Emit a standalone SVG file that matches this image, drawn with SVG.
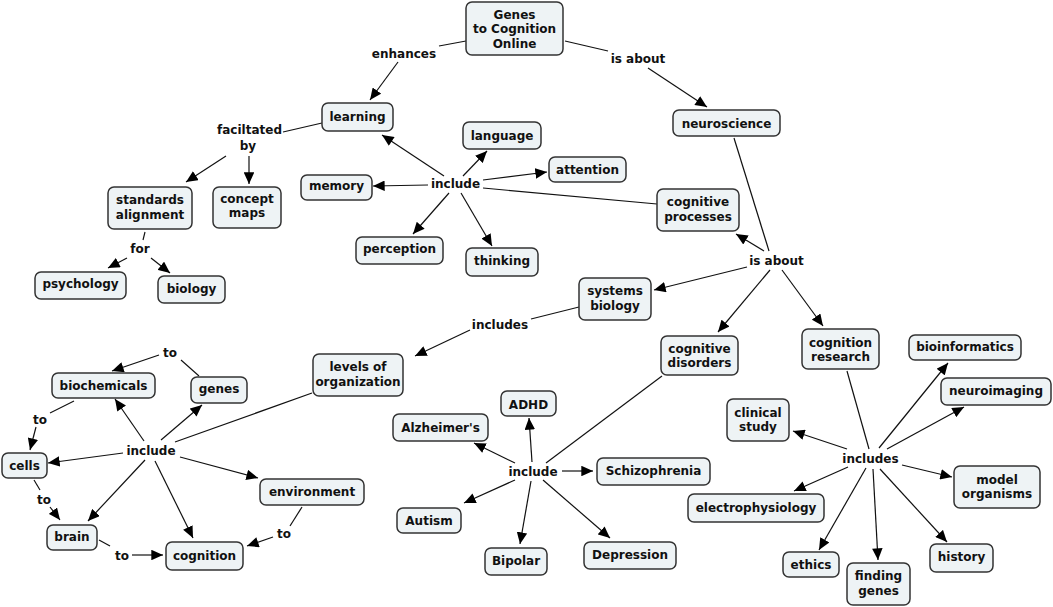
<svg xmlns="http://www.w3.org/2000/svg" width="1053" height="607" viewBox="0 0 1053 607">
<defs>
<marker id="ah" viewBox="0 0 10 9" refX="10" refY="4.5" markerWidth="12" markerHeight="10.5" markerUnits="userSpaceOnUse" orient="auto">
<path d="M0,0 L10,4.5 L0,9 z" fill="#000"/>
</marker>
<style>
.n rect{fill:#eef3f5;stroke:#333;stroke-width:1.5}
text{font-family:"DejaVu Sans",Verdana,"Liberation Sans",sans-serif;font-weight:bold;font-size:12px;fill:#111;text-anchor:middle}
#edges line,#edges path{stroke:#111;stroke-width:1.2;fill:none}
#edges .a{marker-end:url(#ah)}
</style>
</defs>
<rect width="1053" height="607" fill="#fff"/>
<g id="edges">
<line x1="466" y1="41" x2="439" y2="46"/>
<line class="a" x1="398" y1="62" x2="370" y2="100"/>
<line x1="565" y1="41" x2="608" y2="51"/>
<line class="a" x1="648" y1="68" x2="707" y2="107"/>
<line x1="322" y1="123" x2="283" y2="132"/>
<line class="a" x1="226" y1="156" x2="186" y2="182"/>
<line class="a" x1="249" y1="156" x2="249" y2="184"/>
<line x1="145" y1="232" x2="143" y2="240"/>
<line class="a" x1="127" y1="258" x2="108" y2="268"/>
<line class="a" x1="151" y1="258" x2="170" y2="273"/>
<line x1="657" y1="204" x2="483" y2="188"/>
<line class="a" x1="444" y1="176" x2="382" y2="135"/>
<line class="a" x1="463" y1="176" x2="487" y2="151"/>
<line class="a" x1="483" y1="180" x2="547" y2="172"/>
<line class="a" x1="428" y1="185" x2="373" y2="186"/>
<line class="a" x1="449" y1="193" x2="413" y2="234"/>
<line class="a" x1="461" y1="193" x2="492" y2="246"/>
<line x1="734" y1="138" x2="769" y2="251"/>
<line class="a" x1="764" y1="251" x2="736" y2="234"/>
<line class="a" x1="747" y1="267" x2="654" y2="290"/>
<line class="a" x1="770" y1="270" x2="718" y2="332"/>
<line class="a" x1="782" y1="270" x2="823" y2="326"/>
<line x1="579" y1="307" x2="531" y2="319"/>
<line class="a" x1="470" y1="330" x2="415" y2="356"/>
<line x1="312" y1="393" x2="175" y2="442"/>
<line class="a" x1="144" y1="441" x2="115" y2="399"/>
<line class="a" x1="161" y1="440" x2="202" y2="405"/>
<line class="a" x1="123" y1="453" x2="48" y2="463"/>
<line class="a" x1="180" y1="457" x2="258" y2="478"/>
<line class="a" x1="145" y1="460" x2="88" y2="521"/>
<line class="a" x1="155" y1="461" x2="193" y2="538"/>
<line x1="199" y1="376" x2="181" y2="360"/>
<line class="a" x1="159" y1="355" x2="112" y2="371"/>
<line x1="74" y1="401" x2="50" y2="413"/>
<line class="a" x1="36" y1="427" x2="30" y2="450"/>
<line x1="34" y1="480" x2="40" y2="490"/>
<line class="a" x1="50" y1="507" x2="60" y2="520"/>
<line x1="99" y1="540" x2="110" y2="546"/>
<line class="a" x1="132" y1="555" x2="163" y2="555"/>
<line x1="302" y1="507" x2="290" y2="526"/>
<line class="a" x1="273" y1="537" x2="247" y2="546"/>
<line x1="662" y1="376" x2="546" y2="463"/>
<line class="a" x1="532" y1="462" x2="529" y2="418"/>
<line class="a" x1="515" y1="463" x2="474" y2="443"/>
<line class="a" x1="562" y1="471" x2="593" y2="471"/>
<line class="a" x1="515" y1="480" x2="464" y2="503"/>
<line class="a" x1="531" y1="481" x2="520" y2="544"/>
<line class="a" x1="543" y1="480" x2="610" y2="538"/>
<line x1="847" y1="371" x2="869" y2="449"/>
<line class="a" x1="879" y1="448" x2="948" y2="363"/>
<line class="a" x1="887" y1="449" x2="964" y2="407"/>
<line class="a" x1="847" y1="449" x2="793" y2="431"/>
<line class="a" x1="902" y1="465" x2="952" y2="477"/>
<line class="a" x1="848" y1="467" x2="794" y2="491"/>
<line class="a" x1="866" y1="468" x2="819" y2="550"/>
<line class="a" x1="873" y1="469" x2="878" y2="560"/>
<line class="a" x1="880" y1="469" x2="947" y2="542"/>
</g>
<g id="labels">
<text x="404" y="57.5">enhances</text>
<text x="638" y="63">is about</text>
<text x="249.5" y="134">faciltated</text>
<text x="248" y="149.5">by</text>
<text x="140" y="253">for</text>
<text x="455.5" y="187.5">include</text>
<text x="776.5" y="264.5">is about</text>
<text x="500" y="328.5">includes</text>
<text x="151" y="454.5">include</text>
<text x="170" y="356.5">to</text>
<text x="40" y="423.5">to</text>
<text x="44" y="503.5">to</text>
<text x="122" y="560">to</text>
<text x="284" y="537.5">to</text>
<text x="533" y="475.5">include</text>
<text x="870.5" y="462.5">includes</text>
</g>
<g id="n-genes2cog" class="n"><rect x="466" y="2" width="97" height="53" rx="6"/><text x="514.5" y="18.5">Genes</text><text x="514.5" y="33">to Cognition</text><text x="514.5" y="47.5">Online</text></g>
<g id="n-learning" class="n"><rect x="322" y="103" width="71" height="28" rx="6"/><text x="357.5" y="121">learning</text></g>
<g id="n-language" class="n"><rect x="463" y="122" width="78" height="27" rx="6"/><text x="502" y="139.5">language</text></g>
<g id="n-neuroscience" class="n"><rect x="673" y="110" width="107" height="26" rx="6"/><text x="726.5" y="127.5">neuroscience</text></g>
<g id="n-standards" class="n"><rect x="108" y="187" width="84" height="42" rx="6"/><text x="150" y="204">standards</text><text x="150" y="218.5">alignment</text></g>
<g id="n-concept" class="n"><rect x="213" y="187" width="68" height="41" rx="6"/><text x="247" y="202.5">concept</text><text x="247" y="217">maps</text></g>
<g id="n-psychology" class="n"><rect x="35" y="272" width="91" height="27" rx="6"/><text x="80.5" y="288">psychology</text></g>
<g id="n-biology" class="n"><rect x="158" y="276" width="67" height="27" rx="6"/><text x="191.5" y="292.5">biology</text></g>
<g id="n-memory" class="n"><rect x="301" y="175" width="71" height="25" rx="6"/><text x="336.5" y="189.5">memory</text></g>
<g id="n-attention" class="n"><rect x="549" y="157" width="77" height="25" rx="6"/><text x="587.5" y="173.5">attention</text></g>
<g id="n-cogproc" class="n"><rect x="657" y="189" width="82" height="42" rx="6"/><text x="698" y="206">cognitive</text><text x="698" y="221">processes</text></g>
<g id="n-perception" class="n"><rect x="356" y="237" width="87" height="27" rx="6"/><text x="399.5" y="252.5">perception</text></g>
<g id="n-thinking" class="n"><rect x="466" y="248" width="72" height="28" rx="6"/><text x="502" y="265">thinking</text></g>
<g id="n-sysbio" class="n"><rect x="579" y="278" width="72" height="42" rx="6"/><text x="615" y="295">systems</text><text x="615" y="309.5">biology</text></g>
<g id="n-cogdis" class="n"><rect x="661" y="336" width="77" height="39" rx="6"/><text x="699.5" y="352.5">cognitive</text><text x="699.5" y="366.5">disorders</text></g>
<g id="n-cogres" class="n"><rect x="802" y="329" width="77" height="40" rx="6"/><text x="840.5" y="346.5">cognition</text><text x="840.5" y="361">research</text></g>
<g id="n-levels" class="n"><rect x="313" y="354" width="90" height="42" rx="6"/><text x="358" y="371">levels of</text><text x="358" y="386">organization</text></g>
<g id="n-biochem" class="n"><rect x="52" y="373" width="103" height="25" rx="6"/><text x="103.5" y="389.5">biochemicals</text></g>
<g id="n-genes" class="n"><rect x="191" y="377" width="56" height="26" rx="6"/><text x="219" y="392.5">genes</text></g>
<g id="n-cells" class="n"><rect x="2" y="453" width="45" height="25" rx="6"/><text x="24.5" y="469.5">cells</text></g>
<g id="n-environment" class="n"><rect x="260" y="479" width="104" height="26" rx="6"/><text x="312" y="496">environment</text></g>
<g id="n-brain" class="n"><rect x="47" y="525" width="50" height="25" rx="6"/><text x="72" y="541">brain</text></g>
<g id="n-cognition" class="n"><rect x="166" y="542" width="77" height="28" rx="6"/><text x="204.5" y="559.5">cognition</text></g>
<g id="n-adhd" class="n"><rect x="501" y="391" width="55" height="25" rx="6"/><text x="528.5" y="408.5">ADHD</text></g>
<g id="n-alz" class="n"><rect x="393" y="414" width="95" height="27" rx="6"/><text x="440.5" y="431.5">Alzheimer's</text></g>
<g id="n-schizo" class="n"><rect x="597" y="458" width="113" height="27" rx="6"/><text x="653.5" y="474.5">Schizophrenia</text></g>
<g id="n-autism" class="n"><rect x="397" y="508" width="64" height="25" rx="6"/><text x="429" y="524.5">Autism</text></g>
<g id="n-bipolar" class="n"><rect x="485" y="548" width="62" height="27" rx="6"/><text x="516" y="564.5">Bipolar</text></g>
<g id="n-depression" class="n"><rect x="584" y="542" width="92" height="27" rx="6"/><text x="630" y="558.5">Depression</text></g>
<g id="n-bioinf" class="n"><rect x="909" y="335" width="112" height="25" rx="6"/><text x="965" y="351">bioinformatics</text></g>
<g id="n-neuroimg" class="n"><rect x="941" y="378" width="110" height="27" rx="6"/><text x="996" y="395">neuroimaging</text></g>
<g id="n-clinical" class="n"><rect x="727" y="399" width="62" height="42" rx="6"/><text x="758" y="416.5">clinical</text><text x="758" y="431">study</text></g>
<g id="n-model" class="n"><rect x="954" y="466" width="86" height="42" rx="6"/><text x="997" y="483.5">model</text><text x="997" y="497.5">organisms</text></g>
<g id="n-electro" class="n"><rect x="688" y="494" width="136" height="28" rx="6"/><text x="756" y="511.5">electrophysiology</text></g>
<g id="n-ethics" class="n"><rect x="783" y="552" width="56" height="25" rx="6"/><text x="811" y="568.5">ethics</text></g>
<g id="n-finding" class="n"><rect x="847" y="563" width="63" height="42" rx="6"/><text x="878.5" y="580">finding</text><text x="878.5" y="594.5">genes</text></g>
<g id="n-history" class="n"><rect x="930" y="544" width="63" height="28" rx="6"/><text x="961.5" y="561">history</text></g>
</svg>
